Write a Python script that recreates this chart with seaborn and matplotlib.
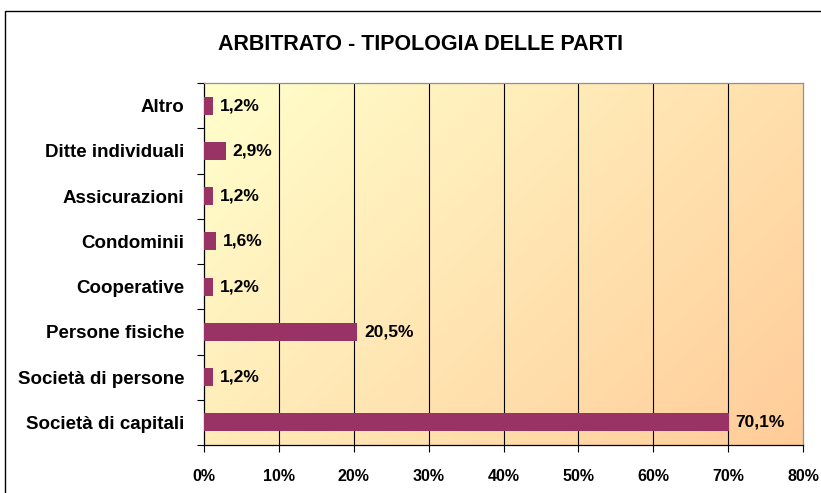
import numpy as np
import pandas as pd
import matplotlib
matplotlib.use("Agg")
import matplotlib.pyplot as plt
from matplotlib.patches import Rectangle
from matplotlib.colors import LinearSegmentedColormap
from matplotlib.ticker import FixedLocator
import seaborn as sns

# Data
categories = ["Altro", "Ditte individuali", "Assicurazioni", "Condominii",
              "Cooperative", "Persone fisiche", "Società di persone",
              "Società di capitali"]
values = [1.2, 2.9, 1.2, 1.6, 1.2, 20.5, 1.2, 70.1]
x_ticks = [0, 10, 20, 30, 40, 50, 60, 70, 80]

df = pd.DataFrame({"Tipologia": categories, "Percentuale": values})

sns.set_theme(style="white")
plt.rcParams["font.family"] = ["Liberation Sans", "DejaVu Sans"]
plt.rcParams["text.color"] = "black"
plt.rcParams["xtick.color"] = "black"
plt.rcParams["ytick.color"] = "black"

fig = plt.figure(figsize=(8.21, 4.93), dpi=100)
ax = fig.add_axes([204 / 821, 1 - 445 / 493, (803 - 204) / 821, (445 - 83) / 493])

# gradient background (light yellow -> peach)
cmap = LinearSegmentedColormap.from_list("bg", ["#FFFFCC", "#FFCC99"])
gx, gy = np.meshgrid(np.linspace(0, 1, 200), np.linspace(0, 1, 200))
grad = (gx * 0.75 + gy * 0.45) / 1.2
ax.imshow(grad, cmap=cmap, extent=[0, 80, len(categories) - 0.5, -0.5],
          aspect="auto", zorder=0, vmin=0, vmax=1)

sns.barplot(data=df, x="Percentuale", y="Tipologia", orient="h",
            color="#993366", saturation=1, width=0.4, linewidth=0,
            ax=ax, zorder=3)

ax.set_xlim(0, 80)
ax.set_ylim(len(categories) - 0.5, -0.5)
ax.set_xticks(x_ticks)
ax.set_xticklabels([f"{t}%" for t in x_ticks], fontsize=11.5, fontweight="bold")
ax.set_yticks(range(len(categories)))
ax.set_yticklabels(categories, fontsize=13.5, fontweight="bold")
ax.yaxis.set_minor_locator(FixedLocator(np.arange(-0.5, len(categories), 1)))
ax.tick_params(axis="y", which="major", length=0, pad=14)
ax.tick_params(axis="y", which="minor", length=5, width=0.8, color="black", left=True)
ax.tick_params(axis="x", which="major", length=5, width=0.8, color="black",
               bottom=True, pad=12)
ax.set_xlabel("")
ax.set_ylabel("")

for x in x_ticks[1:-1]:
    ax.axvline(x, color="black", linewidth=0.8, zorder=1)

for i, v in enumerate(values):
    ax.text(v + 0.9, i, f"{v:.1f}%".replace(".", ","), va="center", ha="left",
            fontsize=12.5, fontweight="bold", color="black", zorder=4)

for side in ["left", "bottom"]:
    ax.spines[side].set_color("black")
    ax.spines[side].set_linewidth(0.9)
for side in ["top", "right"]:
    ax.spines[side].set_color("#909090")
    ax.spines[side].set_linewidth(0.9)

fig.text(420 / 821, 1 - 44 / 493, "ARBITRATO - TIPOLOGIA DELLE PARTI",
         ha="center", va="center", fontsize=15.5, fontweight="bold")

# chart frame
fig.patches.append(Rectangle((5 / 821, -0.1), 1.2, (493 - 11) / 493 + 0.1,
                             transform=fig.transFigure, fill=False,
                             edgecolor="black", linewidth=1))

fig.savefig("out.png", dpi=100)
